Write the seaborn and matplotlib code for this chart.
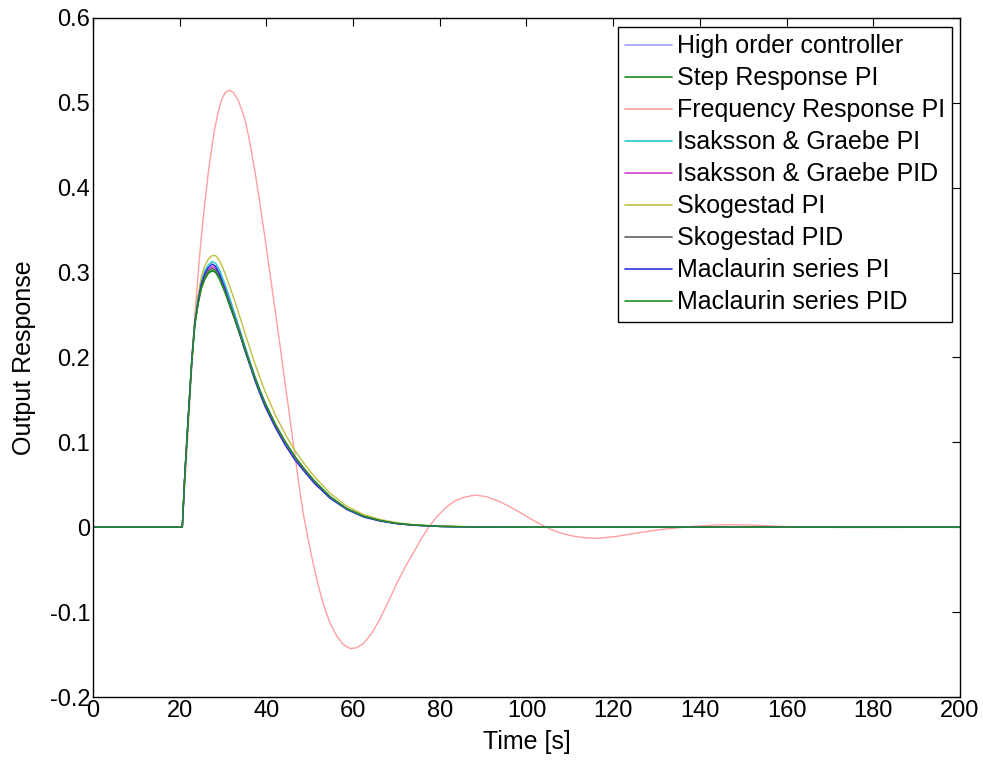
import numpy as np
import pandas as pd
import matplotlib
matplotlib.use("Agg")
import matplotlib.pyplot as plt
from matplotlib.lines import Line2D
import seaborn as sns

# ---------------- data ----------------
series_names = [
    "High order controller",
    "Step Response PI",
    "Frequency Response PI",
    "Isaksson & Graebe PI",
    "Isaksson & Graebe PID",
    "Skogestad PI",
    "Skogestad PID",
    "Maclaurin series PI",
    "Maclaurin series PID",
]
series_colors = ["#a0a0ff", "#1a8a1a", "#ffa0a0", "#20c8c8", "#d040d0",
                 "#c0c040", "#606060", "#3030e0", "#209020"]

t_main = [0, 20.6, 21.2, 22.0, 22.8, 23.5, 24.3, 25.0, 25.8, 26.6, 27.5, 28.3,
          29.2, 30.4, 31.6, 32.8, 34.0, 35.1, 36.3, 37.4, 38.6, 39.7, 42.0, 44.3,
          46.6, 49.0, 51.0, 54.7, 58.5, 62.4, 66.2, 70.0, 74.0, 80.0, 90.0, 100.0, 200.0]

high_order = [0, 0, 0.064, 0.132, 0.198, 0.242, 0.269, 0.287, 0.299, 0.306, 0.310, 0.308,
              0.300, 0.284, 0.266, 0.248, 0.229, 0.211, 0.193, 0.176, 0.160, 0.146, 0.121, 0.100,
              0.082, 0.066, 0.054, 0.035, 0.022, 0.013, 0.0078, 0.0045, 0.0025, 0.0010, 0.0002, 0.0, 0.0]
step_pi = [0, 0, 0.063, 0.130, 0.195, 0.238, 0.264, 0.281, 0.292, 0.299, 0.302, 0.300,
           0.292, 0.277, 0.260, 0.243, 0.225, 0.208, 0.190, 0.174, 0.158, 0.145, 0.121, 0.100,
           0.082, 0.066, 0.054, 0.035, 0.022, 0.013, 0.0078, 0.0045, 0.0025, 0.0010, 0.0002, 0.0, 0.0]
isak_pi = [0, 0, 0.064, 0.132, 0.199, 0.244, 0.271, 0.290, 0.302, 0.309, 0.313, 0.311,
           0.303, 0.287, 0.269, 0.250, 0.231, 0.213, 0.194, 0.177, 0.161, 0.147, 0.122, 0.101,
           0.083, 0.067, 0.055, 0.036, 0.022, 0.013, 0.0079, 0.0046, 0.0026, 0.0010, 0.0002, 0.0, 0.0]
isak_pid = [0, 0, 0.063, 0.131, 0.197, 0.241, 0.268, 0.285, 0.297, 0.304, 0.307, 0.305,
            0.297, 0.282, 0.264, 0.246, 0.228, 0.210, 0.192, 0.175, 0.159, 0.146, 0.121, 0.100,
            0.082, 0.066, 0.054, 0.035, 0.022, 0.013, 0.0078, 0.0045, 0.0025, 0.0010, 0.0002, 0.0, 0.0]
skog_pi = [0, 0, 0.064, 0.133, 0.200, 0.246, 0.275, 0.295, 0.308, 0.316, 0.320, 0.320,
           0.314, 0.300, 0.283, 0.265, 0.246, 0.228, 0.209, 0.192, 0.175, 0.160, 0.133, 0.110,
           0.090, 0.073, 0.060, 0.040, 0.025, 0.015, 0.0092, 0.0054, 0.0031, 0.0013, 0.0003, 0.0, 0.0]
skog_pid = [0, 0, 0.063, 0.130, 0.196, 0.240, 0.266, 0.284, 0.295, 0.302, 0.305, 0.303,
            0.295, 0.280, 0.263, 0.245, 0.227, 0.210, 0.192, 0.176, 0.160, 0.146, 0.122, 0.101,
            0.083, 0.067, 0.055, 0.036, 0.022, 0.013, 0.0080, 0.0046, 0.0026, 0.0010, 0.0002, 0.0, 0.0]
mac_pi = [0, 0, 0.064, 0.132, 0.198, 0.242, 0.269, 0.287, 0.299, 0.306, 0.310, 0.307,
          0.298, 0.281, 0.262, 0.244, 0.225, 0.207, 0.189, 0.172, 0.156, 0.142, 0.118, 0.097,
          0.079, 0.064, 0.052, 0.034, 0.021, 0.012, 0.0072, 0.0042, 0.0023, 0.0009, 0.0002, 0.0, 0.0]
mac_pid = [0, 0, 0.063, 0.130, 0.195, 0.239, 0.265, 0.282, 0.293, 0.300, 0.303, 0.301,
           0.293, 0.278, 0.261, 0.244, 0.226, 0.209, 0.191, 0.175, 0.159, 0.146, 0.122, 0.101,
           0.083, 0.067, 0.055, 0.036, 0.022, 0.013, 0.0079, 0.0046, 0.0026, 0.0010, 0.0002, 0.0, 0.0]

t_freq = [0, 20.6, 21.2, 22.0, 22.8, 23.5, 24.7, 25.6, 26.6, 27.5, 28.1, 29.0, 29.7, 30.5,
          31.4, 32.4, 33.5, 34.3, 35.1, 36.0, 36.6, 37.4, 38.1, 39.0, 39.7, 40.8, 42.0, 43.2,
          44.3, 45.3, 46.2, 47.4, 48.5, 49.7, 50.8, 52.0, 53.1, 54.6, 56.2, 57.7, 59.3, 60.8,
          62.4, 64.3, 66.2, 68.1, 70.1, 72.0, 73.9, 75.8, 77.7, 79.6, 81.6, 83.5, 85.4, 88.1,
          90.8, 93.9, 96.6, 99.3, 102.3, 105.4, 108.0, 110.8, 113.7, 116.6, 120.5, 124.6,
          128.4, 132.3, 138.5, 143.0, 147.0, 152.0, 158.0, 165.0, 175.0, 200.0]
freq_pi = [0, 0, 0.050, 0.120, 0.190, 0.250, 0.326, 0.373, 0.418, 0.451, 0.470, 0.492,
           0.504, 0.512, 0.515, 0.512, 0.503, 0.492, 0.479, 0.458, 0.441, 0.418, 0.395,
           0.364, 0.340, 0.300, 0.256, 0.212, 0.170, 0.133, 0.099, 0.054, 0.016, -0.016,
           -0.043, -0.069, -0.090, -0.112, -0.128, -0.138, -0.143, -0.142, -0.137, -0.125,
           -0.108, -0.088, -0.066, -0.047, -0.030, -0.013, 0.002, 0.014, 0.024, 0.031,
           0.035, 0.038, 0.036, 0.030, 0.023, 0.015, 0.006, -0.002, -0.007, -0.0105,
           -0.0125, -0.013, -0.011, -0.0075, -0.0045, -0.002, 0.001, 0.0025, 0.003,
           0.0025, 0.0012, 0.0, -0.0003, 0.0]

xticks = [0, 20, 40, 60, 80, 100, 120, 140, 160, 180, 200]
yticks = [-0.2, -0.1, 0, 0.1, 0.2, 0.3, 0.4, 0.5, 0.6]
ytick_labels = ["-0.2", "-0.1", "0", "0.1", "0.2", "0.3", "0.4", "0.5", "0.6"]

# ---------------- build long-form table ----------------
values = {
    "High order controller": (t_main, high_order),
    "Step Response PI": (t_main, step_pi),
    "Frequency Response PI": (t_freq, freq_pi),
    "Isaksson & Graebe PI": (t_main, isak_pi),
    "Isaksson & Graebe PID": (t_main, isak_pid),
    "Skogestad PI": (t_main, skog_pi),
    "Skogestad PID": (t_main, skog_pid),
    "Maclaurin series PI": (t_main, mac_pi),
    "Maclaurin series PID": (t_main, mac_pid),
}
frames = []
for name in series_names:
    tt, vv = values[name]
    frames.append(pd.DataFrame({"Time": tt, "Response": vv, "Series": name}))
df = pd.concat(frames, ignore_index=True)

# ---------------- plot ----------------
sns.set_style("white")
plt.rcParams["font.family"] = ["Liberation Sans", "DejaVu Sans"]
plt.rcParams["text.color"] = "black"
plt.rcParams["axes.labelcolor"] = "black"
plt.rcParams["xtick.color"] = "black"
plt.rcParams["ytick.color"] = "black"
FS_TICK = 17
FS = 18

fig = plt.figure(figsize=(9.83, 7.63), dpi=100)
ax = fig.add_axes([0.0946, 0.0865, 0.882, 0.890])

palette = dict(zip(series_names, series_colors))
sns.lineplot(data=df, x="Time", y="Response", hue="Series", hue_order=series_names,
             palette=palette, estimator=None, sort=False, linewidth=1.0,
             legend=False, ax=ax)

ax.set_xlim(0, 200)
ax.set_ylim(-0.2, 0.6)
ax.set_xticks(xticks)
ax.set_xticklabels([str(x) for x in xticks])
ax.set_yticks(yticks)
ax.set_yticklabels(ytick_labels)
ax.tick_params(direction="in", length=6, width=0.8, top=True, right=True,
               labelsize=FS_TICK, pad=2, colors="black", labelcolor="black")
for sp in ax.spines.values():
    sp.set_visible(True)
    sp.set_color("black")
    sp.set_linewidth(1.0)

ax.set_xlabel("Time [s]", fontsize=FS, labelpad=6, color="black")
ax.set_ylabel("Output Response", fontsize=FS, labelpad=10, color="black")

handles = [Line2D([0], [0], color=c, lw=1.2) for c in series_colors]
leg = ax.legend(handles, series_names, loc="upper right",
                bbox_to_anchor=(0.991, 0.987), borderaxespad=0,
                fontsize=FS, frameon=True, fancybox=False, framealpha=1,
                edgecolor="black", handlelength=1.85, handletextpad=0.2,
                labelspacing=0.32, borderpad=0.3, labelcolor="black")
leg.get_frame().set_linewidth(1.0)

fig.savefig("out.png", dpi=100, facecolor="white")
